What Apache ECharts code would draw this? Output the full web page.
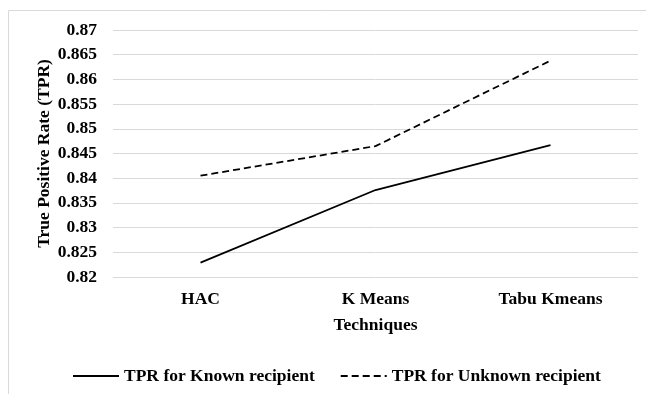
<!DOCTYPE html>
<html>
<head>
<meta charset="utf-8">
<script src="https://cdn.jsdelivr.net/npm/echarts@6/dist/echarts.min.js"></script>
<style>html,body{margin:0;padding:0;background:#fff}#c{width:646px;height:394px}</style>
</head>
<body>
<div id="c"></div>
<script>
var categories = ['HAC', 'K Means', 'Tabu Kmeans'];
var knownTPR = [0.8229, 0.8376, 0.8467];
var unknownTPR = [0.8405, 0.8465, 0.8638];
var yTicks = { min: 0.82, max: 0.87, interval: 0.005 };

var font = '"Liberation Serif", "Times New Roman", serif';
var chart = echarts.init(document.getElementById('c'), null, { renderer: 'canvas' });
chart.setOption({
  animation: false,
  backgroundColor: '#fff',
  graphic: [{
    type: 'rect', shape: { x: 8.5, y: 10.5, width: 660, height: 400 },
    style: { fill: 'none', stroke: '#d9d9d9', lineWidth: 1 }, silent: true
  }],
  grid: { left: 113, right: 8, top: 30, bottom: 117 },
  xAxis: {
    type: 'category', data: categories, boundaryGap: true,
    axisLine: { show: false }, axisTick: { show: false },
    axisLabel: { color: '#000', fontFamily: font, fontWeight: 'bold', fontSize: 17.5, margin: 13 },
    name: 'Techniques', nameLocation: 'middle', nameGap: 39, nameMoveOverlap: false,
    nameTextStyle: { color: '#000', fontFamily: font, fontWeight: 'bold', fontSize: 17.5, verticalAlign: 'top' }
  },
  yAxis: {
    type: 'value', min: yTicks.min, max: yTicks.max, interval: yTicks.interval,
    axisLine: { show: false }, axisTick: { show: false },
    splitLine: { lineStyle: { color: '#d9d9d9', width: 1 } },
    axisLabel: { color: '#000', fontFamily: font, fontWeight: 'bold', fontSize: 17.5, margin: 16,
      formatter: function (v) { return String(parseFloat(v.toFixed(3))); } },
    name: 'True Positive Rate (TPR)', nameLocation: 'middle', nameGap: 60, nameRotate: 90,
    nameMoveOverlap: false,
    nameTextStyle: { color: '#000', fontFamily: font, fontWeight: 'bold', fontSize: 17.5 }
  },
  legend: {
    top: 362, left: 67, itemGap: 25, itemWidth: 46, itemHeight: 14,
    itemStyle: { opacity: 0 },
    textStyle: { color: '#000', fontFamily: font, fontWeight: 'bold', fontSize: 17.5 },
    data: ['TPR for Known recipient', 'TPR for Unknown recipient']
  },
  series: [{
    name: 'TPR for Known recipient', type: 'line', data: knownTPR, symbol: 'none',
    lineStyle: { color: '#000', width: 1.75, type: 'solid' }, itemStyle: { color: '#000' }
  }, {
    name: 'TPR for Unknown recipient', type: 'line', data: unknownTPR, symbol: 'none',
    lineStyle: { color: '#000', width: 1.75, type: [7, 4] }, itemStyle: { color: '#000' }
  }]
});
</script>
</body>
</html>
